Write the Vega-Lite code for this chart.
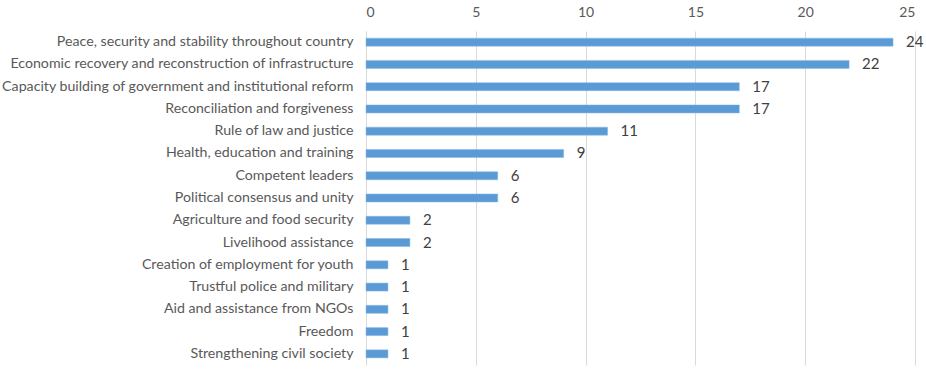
{
  "$schema": "https://vega.github.io/schema/vega-lite/v6.json",
  "width": 549,
  "height": 334,
  "autosize": {"type": "none"},
  "padding": {"left": 366, "top": 31, "right": 11, "bottom": 13},
  "background": "white",
  "config": {"view": {"stroke": null}, "font": "Lato"},
  "data": {
    "values": [
      {"item": "Peace, security and stability throughout country", "count": 24},
      {"item": "Economic recovery and reconstruction of infrastructure", "count": 22},
      {"item": "Capacity building of government and institutional reform", "count": 17},
      {"item": "Reconciliation and forgiveness", "count": 17},
      {"item": "Rule of law and justice", "count": 11},
      {"item": "Health, education and training", "count": 9},
      {"item": "Competent leaders", "count": 6},
      {"item": "Political consensus and unity", "count": 6},
      {"item": "Agriculture and food security", "count": 2},
      {"item": "Livelihood assistance", "count": 2},
      {"item": "Creation of employment for youth", "count": 1},
      {"item": "Trustful police and military", "count": 1},
      {"item": "Aid and assistance from NGOs", "count": 1},
      {"item": "Freedom", "count": 1},
      {"item": "Strengthening civil society", "count": 1}
    ]
  },
  "encoding": {
    "y": {
      "field": "item", "type": "nominal", "sort": null, "title": null,
      "scale": {"paddingInner": 0.64, "paddingOuter": 0.32},
      "axis": {"ticks": false, "domainColor": "#d9d9d9", "labelColor": "#595959", "labelFontSize": 14.2, "labelPadding": 13, "labelLimit": 500}
    },
    "x": {
      "field": "count", "type": "quantitative", "title": null,
      "scale": {"domain": [0, 25]},
      "axis": {"orient": "top", "values": [0, 5, 10, 15, 20, 25], "domain": false, "ticks": false, "gridColor": "#d9d9d9", "labelColor": "#595959", "labelFontSize": 14, "labelPadding": 12}
    }
  },
  "layer": [
    {"mark": {"type": "bar", "color": "#5b9bd5", "stroke": "#8ab6e3", "strokeWidth": 0.5}},
    {"mark": {"type": "text", "align": "left", "dx": 13, "fontSize": 15, "color": "#404040"}, "encoding": {"text": {"field": "count"}}}
  ]
}
